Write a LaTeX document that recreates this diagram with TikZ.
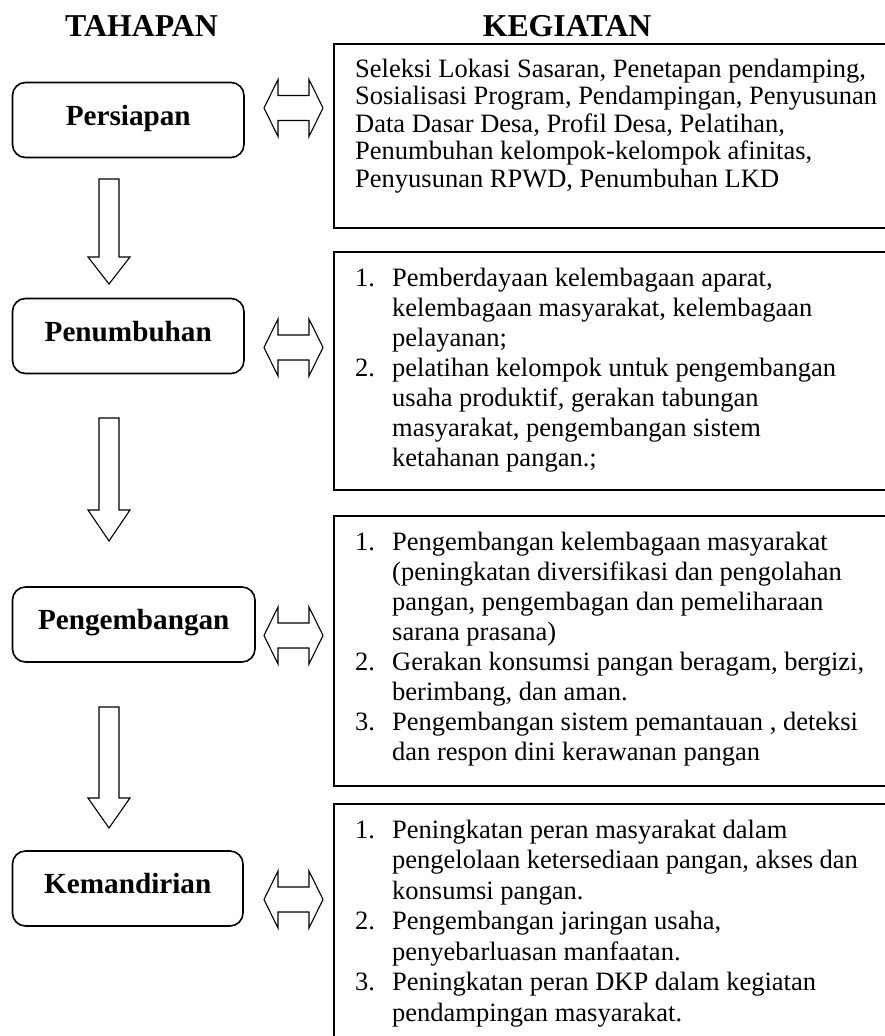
\documentclass[tikz,border=0pt]{standalone}
\usepackage{fontspec}
\setmainfont{Liberation Serif}
\newcommand\itm[1]{\makebox[37pt][l]{#1}}
\newcommand\ind{\hspace*{37pt}}
\begin{document}
\begin{tikzpicture}[x=1pt,y=-1pt,
  stage/.style={draw, line width=1.6pt, rounded corners=13pt, inner sep=0pt,
    minimum height=75pt, text height=19pt, text depth=9pt,
    font=\bfseries\fontsize{29.2}{30}\selectfont},
  kbox/.style={draw, line width=1.6pt, anchor=north west, inner sep=0pt},
  head/.style={font=\bfseries\fontsize{31.8}{32}\selectfont, inner sep=0pt, anchor=base},
  txt/.style={anchor=base west, align=left, inner sep=0pt, font=\fontsize{26.5}{30.5}\selectfont},
  blk/.style={draw, line width=1.1pt, fill=white, line join=miter}]
\useasboundingbox (0,0) rectangle (885,1036);
\clip (0,0) rectangle (885,1036);

% headings
\node[head] (hT) at (141.5,36) {TAHAPAN};
\node[head] (hK) at (567,36) {KEGIATAN};

% stage boxes
\node[stage, minimum width=231.5pt] (p1) at (128.25,120) {Persiapan};
\node[stage, minimum width=231.5pt] (p2) at (128.25,336) {Penumbuhan};
\node[stage, minimum width=242.5pt] (p3) at (133.75,624.5) {Pengembangan};
\node[stage, minimum width=230.5pt] (p4) at (127.75,888.5) {Kemandirian};

% activity boxes
\node[kbox, minimum width=570pt, minimum height=184pt] (k1) at (333,43) {};
\node[kbox, minimum width=570pt, minimum height=238pt] (k2) at (333,251) {};
\node[kbox, minimum width=570pt, minimum height=270pt] (k3) at (333,515) {};
\node[kbox, minimum width=570pt, minimum height=260pt] (k4) at (333,803) {};

% texts (anchor = baseline of last line)
\node[txt, font=\fontsize{26.5}{27.5}\selectfont] (t1) at (355,187) {Seleksi Lokasi Sasaran, Penetapan pendamping,\\
Sosialisasi Program, Pendampingan, Penyusunan\\
Data Dasar Desa, Profil Desa, Pelatihan,\\
Penumbuhan kelompok-kelompok afinitas,\\
Penyusunan RPWD, Penumbuhan LKD};

\node[txt, font=\fontsize{26.5}{30}\selectfont] (t2) at (355,466) {\itm{1.}Pemberdayaan kelembagaan aparat,\\
\ind kelembagaan masyarakat, kelembagaan\\
\ind pelayanan;\\
\itm{2.}pelatihan kelompok untuk pengembangan\\
\ind usaha produktif, gerakan tabungan\\
\ind masyarakat, pengembangan sistem\\
\ind ketahanan pangan.;};

\node[txt, font=\fontsize{26.5}{30}\selectfont] (t3) at (355,760) {\itm{1.}Pengembangan kelembagaan masyarakat\\
\ind (peningkatan diversifikasi dan pengolahan\\
\ind pangan, pengembagan dan pemeliharaan\\
\ind sarana prasana)\\
\itm{2.}Gerakan konsumsi pangan beragam, bergizi,\\
\ind berimbang, dan aman.\\
\itm{3.}Pengembangan sistem pemantauan , deteksi\\
\ind dan respon dini kerawanan pangan};

\node[txt] (t4) at (355,1021) {\itm{1.}Peningkatan peran masyarakat dalam\\
\ind pengelolaan ketersediaan pangan, akses dan\\
\ind konsumsi pangan.\\
\itm{2.}Pengembangan jaringan usaha,\\
\ind penyebarluasan manfaatan.\\
\itm{3.}Peningkatan peran DKP dalam kegiatan\\
\ind pendampingan masyarakat.};

% vertical block arrows (p1->p2, p2->p3, p3->p4)
\draw[blk] (99,179) -- (99,257) -- (88,257) -- (109,284) -- (130,257) -- (119,257) -- (119,179) -- cycle;
\draw[blk] (99,418) -- (99,510) -- (88,510) -- (109,541) -- (130,510) -- (119,510) -- (119,418) -- cycle;
\draw[blk] (99,707) -- (99,798) -- (88,798) -- (109,828) -- (130,798) -- (119,798) -- (119,707) -- cycle;

% double block arrows (stage <-> activities)
\foreach \xa/\xb/\yc in {264/323/108, 264/323/347.5, 264/323/635.5, 264/323/899.5}{
  \draw[blk] (\xa,\yc) -- (\xa+14,\yc-28.5) -- (\xa+14,\yc-12.5) -- (\xb-14,\yc-12.5) -- (\xb-14,\yc-28.5)
    -- (\xb,\yc) -- (\xb-14,\yc+28.5) -- (\xb-14,\yc+12.5) -- (\xa+14,\yc+12.5) -- (\xa+14,\yc+28.5) -- cycle;
}
\end{tikzpicture}
\end{document}
